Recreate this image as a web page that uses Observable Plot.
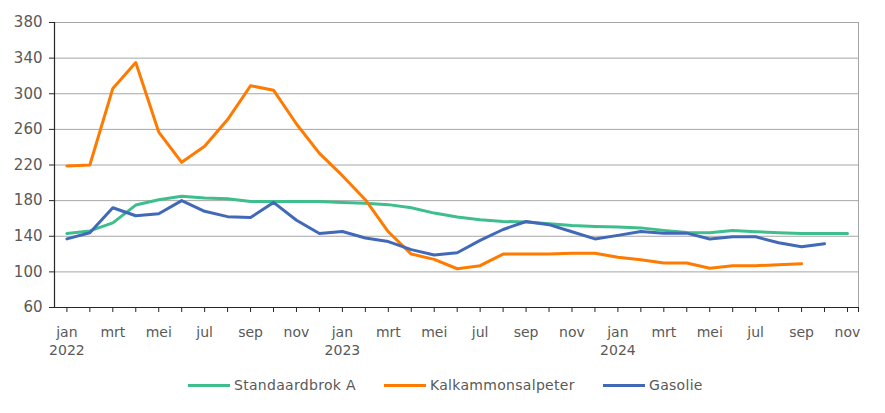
<!DOCTYPE html>
<html>
<head>
<meta charset="utf-8">
<script src="https://cdn.jsdelivr.net/npm/d3@7"></script>
<script src="https://cdn.jsdelivr.net/npm/@observablehq/plot@0.6"></script>
<style>
  html, body { margin: 0; padding: 0; background: #fff; }
  body { width: 885px; height: 413px; overflow: hidden; font-family: "DejaVu Sans", Verdana, sans-serif; }
  #legend { height: 22px; color: #595959; font-size: 14px; }
  .item { position: absolute; display: flex; align-items: center; letter-spacing: 0.3px; }
  .sw { display: inline-block; width: 42px; height: 3px; margin-right: 4px; }
</style>
</head>
<body>
<div id="chart"></div>
<div id="legend"></div>
<script>
const monthLabels = ["jan","feb","mrt","apr","mei","jun","jul","aug","sep","okt","nov","dec"];
const years = [2022, 2023, 2024];
const seriesNames = ["Standaardbrok A", "Kalkammonsalpeter", "Gasolie"];
const seriesColors = ["#3DBE8C", "#FF7A00", "#4169B8"];

// Monthly values from jan 2022 (index 0) onward
const standaardbrok = [143,146,155,175,181,185,183,182,179,179,179,179,
                       178,177,175.5,172,166,161.5,158.6,156.6,156,154,152,151,
                       150.3,149.4,146.6,144.3,144,146.5,145,144,143,143,143];
const kalkammonsalpeter = [219,220,306,335,257,223,241,271,309,304,266,233,
                           208,181,145,120,114,103.5,107,120,120,120,121,121,
                           116.5,113.6,110,110,104,107,107,108,109];
const gasolie = [137,144,172,163,165.3,180,168,162,161,178,158,143,
                 145.4,138,134,125,119,121.5,135.3,147.6,156.6,153,145,137,
                 141,145.4,143.5,143.5,137,139.4,139.4,132.7,128.2,131.6];
const yTicks = [60,100,140,180,220,260,300,340,380];

const allSeries = [standaardbrok, kalkammonsalpeter, gasolie];
const data = [];
allSeries.forEach((arr, s) => arr.forEach((v, i) => {
  if (v != null) data.push({i, v, name: seriesNames[s]});
}));

const nMonths = 35;
const allIdx = d3.range(nMonths);
const labelIdx = allIdx.filter(i => i % 2 === 0);
const yearIdx = years.map((y, k) => k * 12);

const textColor = "#595959";
const chart = Plot.plot({
  width: 885,
  height: 368,
  marginLeft: 54,
  marginRight: 27,
  marginTop: 22,
  marginBottom: 61,
  style: { fontFamily: "DejaVu Sans, Verdana, sans-serif", fontSize: "13px", color: textColor, background: "#fff" },
  x: { type: "linear", domain: [-0.54, 34.48] },
  y: { domain: [60, 380] },
  color: { domain: seriesNames, range: seriesColors },
  marks: [
    Plot.ruleY(yTicks.filter(d => d > 60), { stroke: "#a6a6a6", strokeWidth: 1 }),
    Plot.ruleX([34.48], { stroke: "#a6a6a6", strokeWidth: 1 }),
    Plot.axisY({ ticks: yTicks, tickSize: 5, tickPadding: 7, stroke: "#262626", label: null, fill: textColor, fontSize: 15 }),
    Plot.ruleX([-0.54], { stroke: "#262626", strokeWidth: 1.2 }),
    Plot.axisX({ ticks: allIdx.concat([34.48]), tickSize: 5, tickFormat: () => "", stroke: "#262626", label: null }),
    Plot.axisX({ ticks: labelIdx, tickSize: 0, tickPadding: 20, label: null, fill: textColor, fontSize: 14,
      tickFormat: i => monthLabels[i % 12] }),
    Plot.axisX({ ticks: yearIdx, tickSize: 0, tickPadding: 38, label: null, fill: textColor, fontSize: 14,
      tickFormat: i => String(years[Math.floor(i / 12)]) }),
    Plot.ruleY([60], { stroke: "#262626", strokeWidth: 1.2 }),
    Plot.line(data, { x: "i", y: "v", z: "name", stroke: "name", strokeWidth: 3, curve: "linear" })
  ]
});
document.getElementById("chart").appendChild(chart);

const legend = document.getElementById("legend");
const lx = [188, 384, 603];
seriesNames.forEach((n, k) => {
  const it = document.createElement("div");
  it.className = "item";
  it.style.left = lx[k] + "px";
  it.style.top = "377px";
  it.style.color = textColor;
  it.innerHTML = `<span class="sw" style="background:${seriesColors[k]}"></span><span>${n}</span>`;
  legend.appendChild(it);
});
</script>
</body>
</html>
